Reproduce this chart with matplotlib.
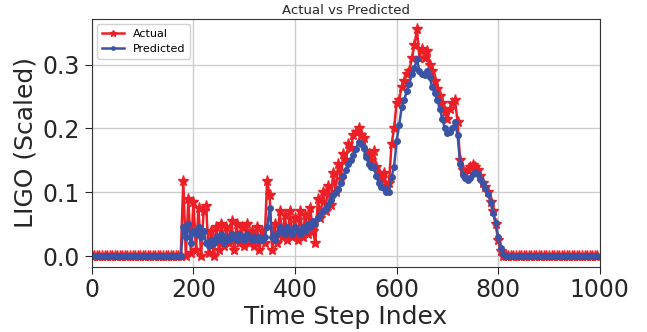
import numpy as np
import matplotlib
matplotlib.use('Agg')
import matplotlib.pyplot as plt

# time steps sampled every 5 (index axis)
stepIdx = list(range(0, 1000, 5))

# leading and trailing flat parts are zero for both series
leadZeros = [0.0] * 36    # steps 0..175
tailZeros = [0.0] * 37    # steps 815..995

# active part, steps 180..810
actualActive = [
    0.118, 0.0, 0.09, 0.005, 0.085, 0.01, 0.075, 0.0, 0.07, 0.078,
    0.005, 0.04, 0.0, 0.045, 0.01, 0.05, 0.015, 0.045, 0.02, 0.055,
    0.01, 0.05, 0.02, 0.045, 0.015, 0.05, 0.02, 0.04, 0.015, 0.045,
    0.01, 0.04, 0.02, 0.118, 0.095, 0.01, 0.05, 0.02, 0.07, 0.03,
    0.065, 0.025, 0.07, 0.03, 0.06, 0.025, 0.07, 0.03, 0.065, 0.035,
    0.075, 0.04, 0.02, 0.09, 0.06, 0.1, 0.07, 0.11, 0.08, 0.13,
    0.1, 0.145, 0.12, 0.16, 0.15, 0.175, 0.17, 0.19, 0.195, 0.2,
    0.19, 0.185, 0.165, 0.16, 0.15, 0.165, 0.14, 0.13, 0.12, 0.13,
    0.11, 0.115, 0.175, 0.2, 0.24, 0.245, 0.265, 0.275, 0.285, 0.29,
    0.31, 0.33, 0.355, 0.31, 0.325, 0.31, 0.322, 0.30, 0.29, 0.275,
    0.262, 0.25, 0.24, 0.225, 0.215, 0.23, 0.24, 0.245, 0.21, 0.15,
    0.135, 0.13, 0.135, 0.14, 0.142, 0.14, 0.135, 0.125, 0.115, 0.108,
    0.1, 0.085, 0.07, 0.05, 0.025, 0.008, 0.0,
]
predictedActive = [
    0.045, 0.03, 0.05, 0.02, 0.04, 0.035, 0.045, 0.03, 0.04, 0.02,
    0.015, 0.025, 0.02, 0.03, 0.025, 0.035, 0.02, 0.03, 0.025, 0.035,
    0.03, 0.025, 0.035, 0.03, 0.025, 0.035, 0.03, 0.025, 0.03, 0.025,
    0.03, 0.025, 0.03, 0.045, 0.075, 0.03, 0.025, 0.035, 0.045, 0.04,
    0.035, 0.045, 0.04, 0.035, 0.045, 0.04, 0.035, 0.045, 0.04, 0.05,
    0.045, 0.055, 0.05, 0.06, 0.065, 0.07, 0.075, 0.08, 0.088, 0.095,
    0.1, 0.105, 0.115, 0.125, 0.135, 0.145, 0.15, 0.158, 0.168, 0.178,
    0.175, 0.17, 0.155, 0.145, 0.14, 0.14, 0.125, 0.114, 0.108, 0.106,
    0.10, 0.10, 0.124, 0.14, 0.18, 0.205, 0.233, 0.245, 0.258, 0.27,
    0.285, 0.295, 0.308, 0.29, 0.285, 0.283, 0.29, 0.28, 0.265, 0.255,
    0.245, 0.23, 0.215, 0.20, 0.192, 0.195, 0.20, 0.21, 0.19, 0.145,
    0.127, 0.122, 0.119, 0.122, 0.128, 0.131, 0.128, 0.12, 0.115, 0.107,
    0.098, 0.085, 0.068, 0.052, 0.03, 0.012, 0.003,
]

actual = leadZeros + actualActive + tailZeros
predicted = leadZeros + predictedActive + tailZeros
assert len(actual) == len(stepIdx) and len(predicted) == len(stepIdx)

plt.rcParams['font.family'] = 'DejaVu Sans'
textColor = '#262626'

fig = plt.figure(figsize=(6.47, 3.32), dpi=100)
ax = fig.add_subplot(111)
fig.subplots_adjust(left=0.142, right=0.927, top=0.944, bottom=0.197)

ax.plot(stepIdx, actual, color='#ec1f26', marker='*', markersize=8,
        linewidth=1.8, label='Actual')
ax.plot(stepIdx, predicted, color='#3a53a4', marker='o', markersize=4,
        linewidth=1.8, label='Predicted')

ax.set_xlim(0, 1000)
ax.set_ylim(-0.0165, 0.372)
ax.set_xticks([0, 200, 400, 600, 800, 1000])
ax.set_yticks([0.0, 0.1, 0.2, 0.3])
ax.grid(True, color='#cccccc', linewidth=1)
ax.set_axisbelow(True)

ax.set_title('Actual vs Predicted', fontsize=9.5, color=textColor, pad=3)
ax.set_xlabel('Time Step Index', fontsize=18, color=textColor, labelpad=2)
ax.set_ylabel('LIGO (Scaled)', fontsize=18, color=textColor, labelpad=4)
ax.tick_params(labelsize=17, colors=textColor, length=5)
for sp in ax.spines.values():
    sp.set_color('#333333')

ax.legend(loc='upper left', fontsize=8, framealpha=0.9, markerscale=0.6)

fig.savefig('out.png', dpi=100)
